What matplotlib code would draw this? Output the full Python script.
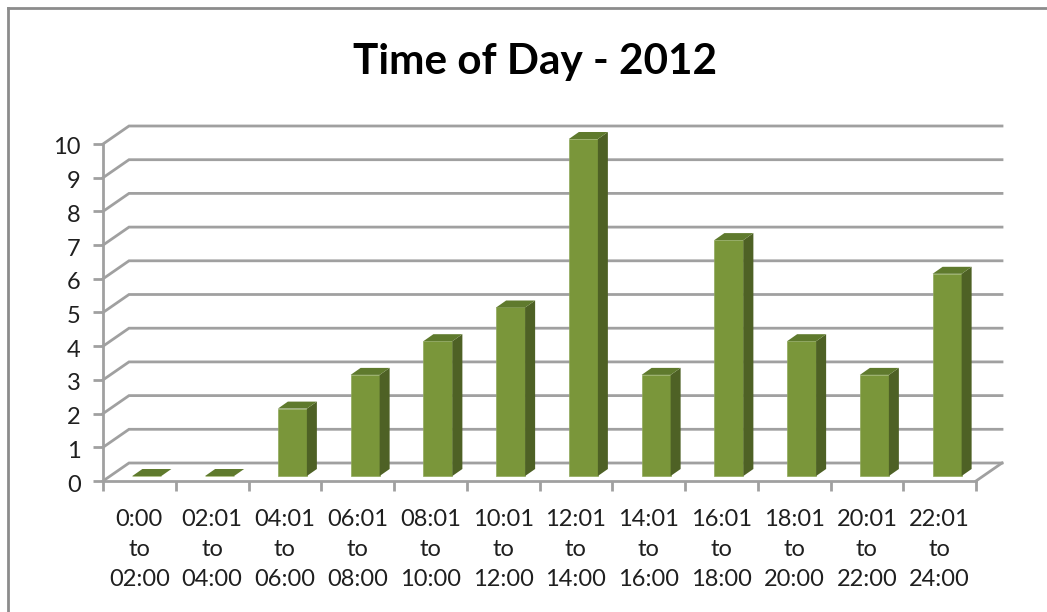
import matplotlib
matplotlib.use("Agg")
import matplotlib.pyplot as plt
from matplotlib.patches import Polygon
from matplotlib.transforms import ScaledTranslation

plt.rcParams['font.family'] = ['Lato', 'DejaVu Sans']

# Incidents per time slot
time_slots = ['0:00\nto\n02:00', '02:01\nto\n04:00', '04:01\nto\n06:00', '06:01\nto\n08:00',
              '08:01\nto\n10:00', '10:01\nto\n12:00', '12:01\nto\n14:00', '14:01\nto\n16:00',
              '16:01\nto\n18:00', '18:01\nto\n20:00', '20:01\nto\n22:00', '22:01\nto\n24:00']
counts = [0, 0, 2, 3, 4, 5, 10, 3, 7, 4, 3, 6]
y_ticks = list(range(0, 11))
title = 'Time of Day - 2012'

W, H = 1047, 612
GRID = '#a0a0a0'
FRONT = '#7a963a'
SIDE = '#4e6125'
TOP = '#5f7a2d'

fig = plt.figure(figsize=(W / 100, H / 100), dpi=100)
# axes box is the front plane of the fake 3d chart
ax = fig.add_axes([103 / W, 1 - 481 / H, (976 - 103) / W, (481 - 144) / H])
ax.set_xlim(-0.5, 11.5)
ax.set_ylim(0, 10)

# depth of the chart floor and of the bars, in data units
wall_dx, wall_dy = 26 / 72.75, 18 / 33.7
bar_dx, bar_dy = 10 / 72.75, 7 / 33.7
shift_x, shift_y = 7.5 / 72.75, 5 / 33.7
bar_w = 29 / 72.75

# walls and gridlines
for v in y_ticks:
    ax.plot([-0.5, -0.5 + wall_dx, 11.5 + wall_dx], [v, v + wall_dy, v + wall_dy],
            color=GRID, lw=2, clip_on=False, zorder=1, solid_joinstyle='miter')
ax.plot([11.5, 11.5 + wall_dx], [0, wall_dy], color=GRID, lw=2, clip_on=False, zorder=1)

# bars
for i, c in enumerate(counts):
    left = i + shift_x - bar_w / 2
    right = left + bar_w
    ax.bar(i + shift_x, c, width=bar_w, bottom=shift_y, color=FRONT,
           zorder=3, clip_on=False, edgecolor='#8fa85a', linewidth=0.5)
    low, high = shift_y, shift_y + c
    ax.add_patch(Polygon([(right, low), (right + bar_dx, low + bar_dy),
                          (right + bar_dx, high + bar_dy), (right, high)],
                         facecolor=SIDE, edgecolor='none', clip_on=False, zorder=3))
    ax.add_patch(Polygon([(left, high), (left + bar_dx, high + bar_dy),
                          (right + bar_dx, high + bar_dy), (right, high)],
                         facecolor=TOP, edgecolor='none', clip_on=False, zorder=3))

for s in ['top', 'right']:
    ax.spines[s].set_visible(False)
for s in ['left', 'bottom']:
    ax.spines[s].set_color(GRID)
    ax.spines[s].set_linewidth(2)

ax.set_yticks(y_ticks)
ax.set_xticks([x - 0.5 for x in range(13)])
ax.set_xticklabels([])
ax.set_xticks(range(12), labels=time_slots, minor=True)
ax.tick_params(axis='x', which='major', length=7, width=2, color=GRID)
ax.tick_params(axis='x', which='minor', length=0, pad=20, labelsize=17, labelcolor='#1f1f1f')
ax.tick_params(axis='y', length=7, width=2, color=GRID, pad=9, labelsize=17, labelcolor='#1f1f1f')
for lab in ax.get_xticklabels(minor=True):
    lab.set_linespacing(1.55)
# y labels sit about 2px lower in the original
nudge = ScaledTranslation(0, -2 / 100, fig.dpi_scale_trans)
for lab in ax.get_yticklabels():
    lab.set_transform(lab.get_transform() + nudge)

fig.text(535 / W, 1 - 62 / H, title, ha='center', va='center', fontsize=30.4, fontweight='bold', color='black')

# chart frame, cut off by the screenshot
for xs, ys in [([8, 8], [H, 8]), ([8, W], [8, 8])]:
    fig.add_artist(plt.Line2D([x / W for x in xs], [1 - y / H for y in ys], color='#8c8c8c', lw=2))

fig.savefig('out.png', dpi=100)
